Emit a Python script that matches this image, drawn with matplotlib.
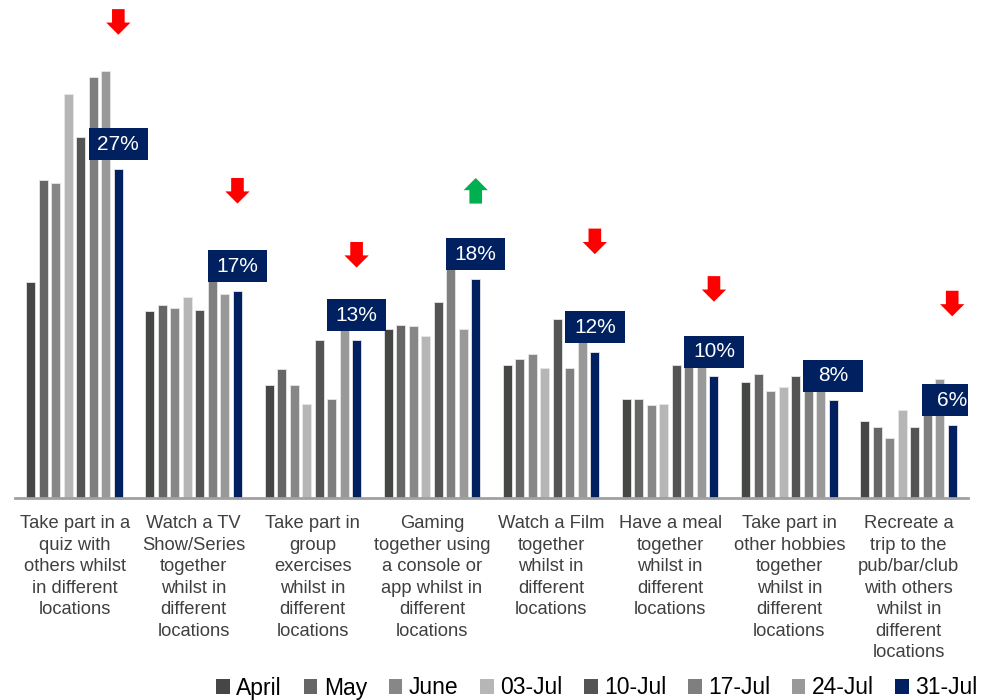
import matplotlib
matplotlib.use("Agg")
import matplotlib.pyplot as plt
from matplotlib.patches import Polygon, Rectangle, Patch
import numpy as np

plt.rcParams['font.family'] = ['Liberation Sans', 'DejaVu Sans']

categories = [
    "Take part in a\nquiz with\nothers whilst\nin different\nlocations",
    "Watch a TV\nShow/Series\ntogether\nwhilst in\ndifferent\nlocations",
    "Take part in\ngroup\nexercises\nwhilst in\ndifferent\nlocations",
    "Gaming\ntogether using\na console or\napp whilst in\ndifferent\nlocations",
    "Watch a Film\ntogether\nwhilst in\ndifferent\nlocations",
    "Have a meal\ntogether\nwhilst in\ndifferent\nlocations",
    "Take part in\nother hobbies\ntogether\nwhilst in\ndifferent\nlocations",
    "Recreate a\ntrip to the\npub/bar/club\nwith others\nwhilst in\ndifferent\nlocations",
]

waves = ["April", "May", "June", "03-Jul", "10-Jul", "17-Jul", "24-Jul", "31-Jul"]

april = [17.7, 15.3, 9.3, 13.9, 10.9, 8.1, 9.5, 6.3]
may = [26.1, 15.8, 10.6, 14.2, 11.4, 8.1, 10.2, 5.8]
june = [25.8, 15.6, 9.3, 14.1, 11.8, 7.6, 8.8, 4.9]
jul03 = [33.1, 16.5, 7.7, 13.3, 10.7, 7.7, 9.1, 7.2]
jul10 = [29.6, 15.4, 13.0, 16.1, 14.7, 10.9, 10.0, 5.8]
jul17 = [34.5, 17.8, 8.1, 18.8, 10.7, 11.0, 9.8, 8.4]
jul24 = [35.0, 16.7, 13.8, 13.9, 12.9, 10.8, 9.5, 9.8]
jul31 = [27, 17, 13, 18, 12, 10, 8, 6]

# change vs previous wave: +1 up, -1 down, 0 none
trend = [-1, -1, -1, 1, -1, -1, 0, -1]
arrow_top = [40.1, 26.25, 21.0, 26.25, 22.1, 18.2, 0, 17.0]

series = [april, may, june, jul03, jul10, jul17, jul24, jul31]
colors = ["#454745", "#666666", "#878787", "#b6b6b6",
          "#545454", "#7f7f7f", "#999999", "#002060"]

fig = plt.figure(figsize=(9.84, 7.0), dpi=100)
ax = fig.add_axes([15 / 984, 1 - 498 / 700, 953 / 984, 498 / 700])

x = np.arange(len(categories))
slot = 0.105
bar_w = 0.075
for i, (vals, col) in enumerate(zip(series, colors)):
    ax.bar(x + (i - 3.5) * slot, vals, width=bar_w, color=col,
           edgecolor="#e6e6e6", linewidth=0.6, zorder=2)

# value boxes over the latest wave
box_w, box_h, gap = 0.5, 2.62, 0.7
last_x = x + 3.5 * slot
for xi, v in zip(last_x, jul31):
    ax.add_patch(Rectangle((xi - box_w / 2, v + gap), box_w, box_h,
                           facecolor="#002060", edgecolor="none", zorder=4))
    ax.text(xi, v + gap + box_h / 2, f"{v}%", color="white", fontsize=15,
            ha="center", va="center", zorder=5)


def block_arrow(ax, xc, top, direction, color):
    length, head = 2.1, 1.0
    sw, hw = 0.053, 0.102
    if direction < 0:
        tip, base = top - length, top
        neck = tip + head
    else:
        tip, base = top, top - length
        neck = tip - head
    pts = [(xc - sw, base), (xc + sw, base), (xc + sw, neck), (xc + hw, neck),
           (xc, tip), (xc - hw, neck), (xc - sw, neck)]
    ax.add_patch(Polygon(pts, closed=True, facecolor=color, edgecolor="none",
                         zorder=3))


for xi, d, top in zip(last_x, trend, arrow_top):
    if d == 0:
        continue
    block_arrow(ax, xi, top, d, "#ff0000" if d < 0 else "#00b050")

ax.set_xlim(-0.5, len(categories) - 0.5)
ax.set_ylim(0, 40.85)
for s in ["top", "right", "left"]:
    ax.spines[s].set_visible(False)
ax.spines["bottom"].set_color("#a0a0a0")
ax.spines["bottom"].set_linewidth(2)
ax.set_yticks([])
ax.set_xticks([])

for xi, lab in zip(x, categories):
    ax.text(xi, -1.4, lab, ha="center", va="top", fontsize=13.2,
            color="#404040", linespacing=1.35)

handles = [Patch(facecolor=c, edgecolor="none") for c in colors]
fig.legend(handles, waves, loc="center", bbox_to_anchor=(597 / 984, 1 - 688 / 700),
           ncol=8, frameon=False, fontsize=16.5, handlelength=0.6,
           handleheight=0.6, handletextpad=0.27, columnspacing=0.95,
           borderpad=0, borderaxespad=0)

fig.savefig("out.png", dpi=100)
